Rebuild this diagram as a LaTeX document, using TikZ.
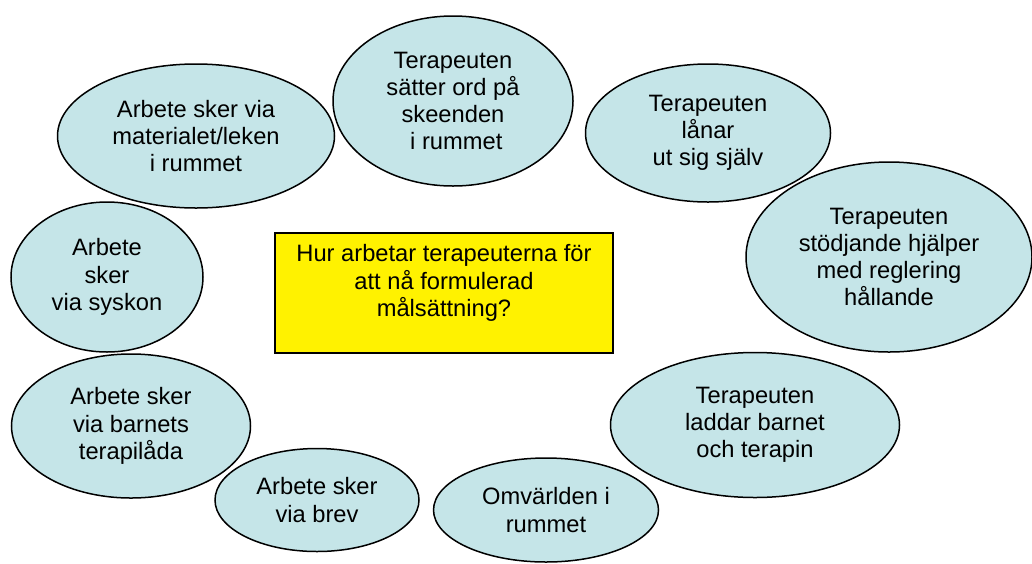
\documentclass[tikz,border=0pt]{standalone}
\usepackage{fontspec}
\setmainfont{Liberation Sans}
\usetikzlibrary{shapes}
\definecolor{bubble}{RGB}{197,229,232}
\tikzstyle{idea}=[ellipse,draw=black,fill=bubble,line width=1.5pt,
  			  inner sep=0pt,align=center]
\tikzstyle{question}=[rectangle,draw=black,fill=yellow,line width=1.5pt,
  			  minimum width=338pt,minimum height=120pt]
\tikzstyle{qtext}=[align=center,inner sep=0pt]

\begin{document}
\begin{tikzpicture}[x=1pt,y=-1pt,
                    font=\fontsize{23.7}{27.2}\selectfont]
	\useasboundingbox (0,0) rectangle (1032,563);

	\node[question] (q) at (444,293) {};
	\node[qtext] (qt) at (444,283) {Hur arbetar terapeuterna för\\att nå formulerad\\målsättning?};

	\node[idea,minimum width=240pt,minimum height=170pt] (ord) at (453,101)
		{Terapeuten\\sätter ord på\\skeenden\\\ i rummet};
	\node[idea,minimum width=277pt,minimum height=144pt] (lek) at (196,136)
		{Arbete sker via\\materialet/leken\\i rummet};
	\node[idea,minimum width=245pt,minimum height=138pt] (lanar) at (708,133)
		{Terapeuten\\lånar\\ut sig själv};
	\node[idea,minimum width=286pt,minimum height=190pt] (stod) at (889,257)
		{Terapeuten\\stödjande hjälper\\med reglering\\hållande};
	\node[idea,minimum width=192pt,minimum height=150pt] (syskon) at (107,277)
		{Arbete\\sker\\via syskon};
	\node[idea,minimum width=239pt,minimum height=144pt] (lada) at (131,426)
		{Arbete sker\\via barnets\\terapilåda};
	\node[idea,minimum width=289pt,minimum height=145pt] (ladda) at (755,425)
		{Terapeuten\\laddar barnet\\och terapin};
	\node[idea,minimum width=204pt,minimum height=103pt] (brev) at (317,500)
		{Arbete sker\\via brev};
	\node[idea,minimum width=225pt,minimum height=104pt] (omv) at (546,510)
		{Omvärlden i\\rummet};
\end{tikzpicture}
\end{document}
